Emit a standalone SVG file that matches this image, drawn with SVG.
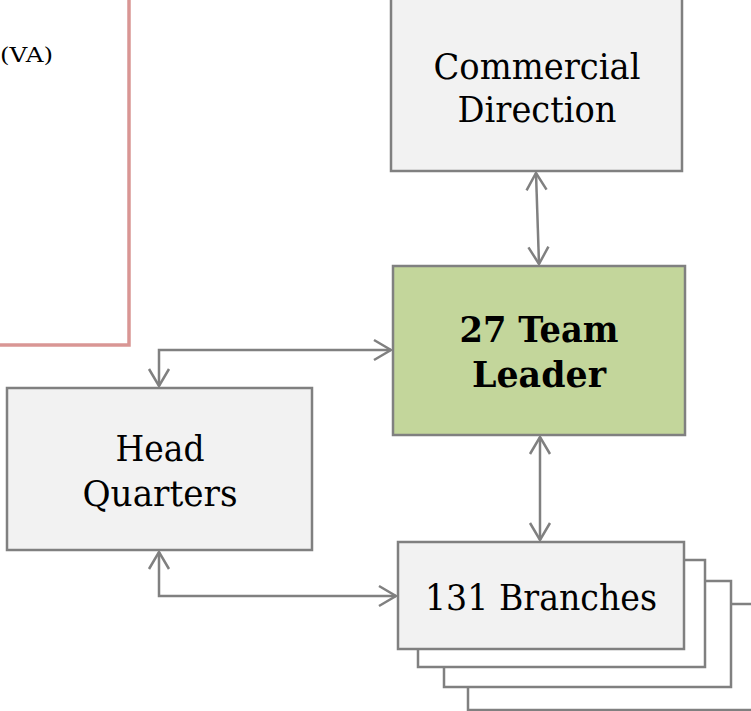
<svg xmlns="http://www.w3.org/2000/svg" width="751" height="711" viewBox="0 0 751 711">
<style>
.box{fill:#F2F2F2;stroke:#808080;stroke-width:2.5}
.back{fill:#FFFFFF;stroke:#808080;stroke-width:2.5}
.green{fill:#C3D69B;stroke:#808080;stroke-width:2.5}
.lbl{font-family:"DejaVu Serif","Liberation Serif",serif;font-size:35px;fill:#000;text-anchor:middle}
.bold{font-weight:bold}
.conn{fill:none;stroke:#808080;stroke-width:2.5;marker-start:url(#arr);marker-end:url(#arr)}
</style>
<defs>
<marker id="arr" markerUnits="userSpaceOnUse" markerWidth="22" markerHeight="24" viewBox="0 0 22 24" refX="20" refY="12" orient="auto-start-reverse">
<path d="M3,2 L20,12 L3,22" fill="none" stroke="#808080" stroke-width="2.5"/>
</marker>
</defs>
<rect width="751" height="711" fill="#FFFFFF"/>
<g id="note">
<rect x="-10" y="-10" width="139" height="355" fill="#FFFFFF" stroke="#D99694" stroke-width="3.5"/>
<text x="53" y="62" font-family="DejaVu Serif,Liberation Serif,serif" font-size="21" text-anchor="end" textLength="53" lengthAdjust="spacingAndGlyphs">(VA)</text>
</g>
<g id="commercial-direction">
<rect class="box" x="391" y="-2" width="291" height="173"/>
<text class="lbl" x="537" y="79" textLength="207" lengthAdjust="spacingAndGlyphs">Commercial</text>
<text class="lbl" x="537" y="122" textLength="159" lengthAdjust="spacingAndGlyphs">Direction</text>
</g>
<g id="team-leader">
<rect class="green" x="393" y="266" width="292" height="169"/>
<text class="lbl bold" x="539" y="342" textLength="159" lengthAdjust="spacingAndGlyphs">27 Team</text>
<text class="lbl bold" x="539" y="387" textLength="134" lengthAdjust="spacingAndGlyphs">Leader</text>
</g>
<g id="head-quarters">
<rect class="box" x="7" y="388" width="305" height="162"/>
<text class="lbl" x="160" y="461" textLength="89" lengthAdjust="spacingAndGlyphs">Head</text>
<text class="lbl" x="160" y="506" textLength="155" lengthAdjust="spacingAndGlyphs">Quarters</text>
</g>
<g id="branches">
<rect class="back" x="468" y="604" width="300" height="106"/>
<rect class="back" x="444" y="581" width="287" height="106"/>
<rect class="back" x="418" y="560" width="287" height="107"/>
<rect class="box" x="398" y="542" width="286" height="107"/>
<text class="lbl" x="541" y="610" textLength="232" lengthAdjust="spacingAndGlyphs">131 Branches</text>
</g>
<g id="connectors">
<path class="conn" d="M536,173 L539,264"/>
<path class="conn" d="M540,437 L540,540"/>
<path class="conn" d="M159,386 L159,350 L391,350"/>
<path class="conn" d="M159,552 L159,596 L396,596"/>
</g>
</svg>
